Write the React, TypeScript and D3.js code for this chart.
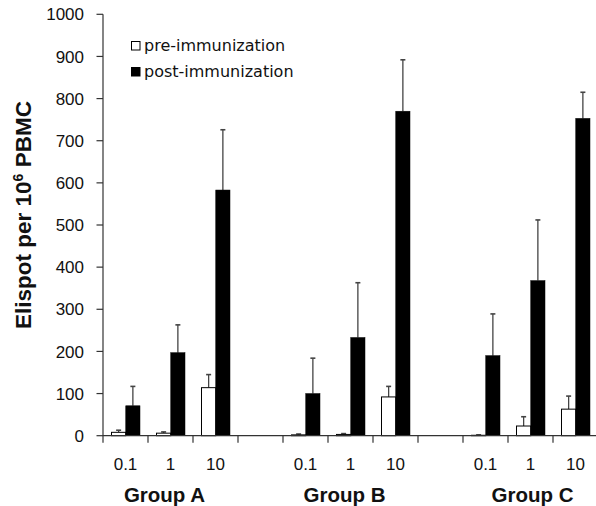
import React from "react";
import * as d3 from "d3";

const groups = ["Group A", "Group B", "Group C"];
const doses = ["0.1", "1", "10"];
const preValues = [[8, 6, 114], [2, 3, 92], [1, 23, 63]];
const preErrors = [[5, 3, 31], [2, 2, 25], [1, 22, 31]];
const postValues = [[71, 197, 583], [100, 233, 770], [190, 368, 753]];
const postErrors = [[46, 66, 143], [84, 130, 122], [99, 144, 62]];
const yTicks = [0, 100, 200, 300, 400, 500, 600, 700, 800, 900, 1000];
const seriesNames = ["pre-immunization", "post-immunization"];
const groupLabelShift = [-6, -6, 2];

const W = 596, H = 506;

export default function App() {
  const nSlots = groups.length * (doses.length + 1) - 1;
  const x = d3.scaleBand<number>().domain(d3.range(nSlots)).range([103, 598]).padding(0);
  const y = d3.scaleLinear().domain([0, 1000]).range([435.7, 14.3]);
  const inner = d3.scaleBand<string>().domain(["pre", "post"]).range([8.5, 37]).padding(0);
  const slotOf = (g: number, c: number) => g * (doses.length + 1) + c;
  const bw = inner.bandwidth();

  const bars: any[] = [];
  groups.forEach((_, g) => {
    doses.forEach((_, c) => {
      const sx = x(slotOf(g, c))!;
      [["pre", preValues, preErrors], ["post", postValues, postErrors]].forEach(([k, vals, errs]: any) => {
        const v = vals[g][c], e = errs[g][c];
        const bx = sx + inner(k)!;
        bars.push({ key: `${g}-${c}-${k}`, k, bx, v, e });
      });
    });
  });

  const tickSlots = d3.range(nSlots + 1);

  return (
    <svg width={W} height={H} style={{ position: "absolute", left: 0, top: 0, background: "#fff" }}
      fontFamily="'Liberation Sans', Arial, sans-serif">
      {/* error bars */}
      {bars.map((b) => {
        const cx = b.bx + bw / 2;
        return (
          <g key={"e" + b.key} stroke="#444" strokeWidth={1.3}>
            <line x1={cx} x2={cx} y1={y(b.v)} y2={y(b.v + b.e)} />
            <line x1={cx - 2.5} x2={cx + 2.5} y1={y(b.v + b.e)} y2={y(b.v + b.e)} strokeWidth={1.6} />
          </g>
        );
      })}
      {/* bars */}
      {bars.map((b) => (
        <rect key={b.key} x={b.bx} y={y(b.v)} width={bw} height={y(0) - y(b.v)}
          fill={b.k === "pre" ? "#fff" : "#000"} stroke="#000" strokeWidth={b.k === "pre" ? 1 : 0.5} />
      ))}
      {/* y axis */}
      <line x1={103} x2={103} y1={y(1000)} y2={y(0)} stroke="#333" strokeWidth={1.2} />
      {yTicks.map((t) => (
        <g key={t}>
          <line x1={96.5} x2={103} y1={y(t)} y2={y(t)} stroke="#333" strokeWidth={1.2} />
          <text x={84} y={y(t)} dy="0.36em" textAnchor="end" fontSize={17} fill="#111">{t}</text>
        </g>
      ))}
      {/* x axis */}
      <line x1={103} x2={W} y1={y(0)} y2={y(0)} stroke="#333" strokeWidth={1.2} />
      {tickSlots.map((s) => {
        const px = s < nSlots ? x(s)! : x(nSlots - 1)! + x.bandwidth();
        return <line key={s} x1={px} x2={px} y1={y(0)} y2={y(0) + 7} stroke="#333" strokeWidth={1.2} />;
      })}
      {groups.map((gname, g) => (
        <g key={gname}>
          {doses.map((d, c) => (
            <text key={d} x={x(slotOf(g, c))! + x.bandwidth() / 2} y={469.5} textAnchor="middle" fontSize={17} fill="#111">{d}</text>
          ))}
          <text x={x(slotOf(g, 1))! + x.bandwidth() / 2 + groupLabelShift[g]} y={502} textAnchor="middle"
            fontSize={20.5} fontWeight="bold" fill="#111">{gname}</text>
        </g>
      ))}
      {/* y label */}
      <text transform="translate(31,215) rotate(-90)" textAnchor="middle" fontSize={22.5} fontWeight="bold" fill="#111">
        Elispot per 10<tspan dy={-8} fontSize={14}>6</tspan><tspan dy={8}> PBMC</tspan>
      </text>
      {/* legend */}
      {seriesNames.map((n, i) => (
        <g key={n} transform={`translate(131,${41 + i * 26})`}>
          <rect x={0.5} y={0.5} width={8.5} height={8.5} fill={i === 0 ? "#fff" : "#000"} stroke="#000" strokeWidth={1} />
          <text x={13} y={9.5} fontFamily="'DejaVu Sans', Verdana, sans-serif" fontSize={16} fill="#111">{n}</text>
        </g>
      ))}
    </svg>
  );
}
